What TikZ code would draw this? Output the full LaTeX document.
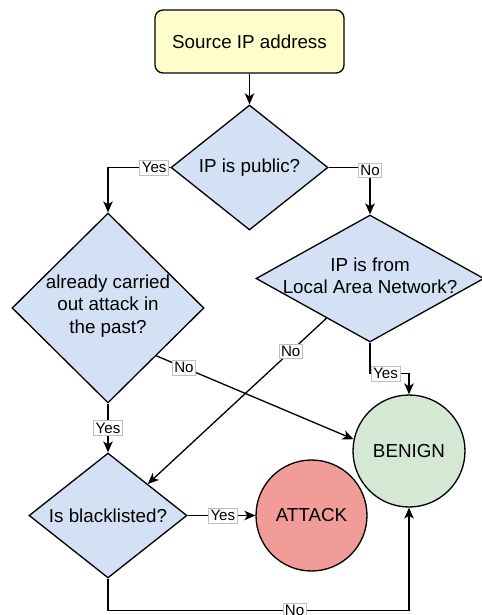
\documentclass[tikz,border=0pt]{standalone}
\usepackage{fontspec}
\setmainfont{Liberation Sans}
\usetikzlibrary{shapes.geometric, arrows.meta, positioning, calc}
\definecolor{giallo}{HTML}{FFFFCC}
\definecolor{azzurro}{HTML}{D4E1F5}
\definecolor{verde}{HTML}{D5E8D4}
\definecolor{rosso}{HTML}{F19C99}

\begin{document}
\begin{tikzpicture}[
  x=0.02cm, y=-0.02cm,
  font=\fontsize{10.7}{12.8}\selectfont,
  avvio/.style={draw=black, fill=giallo, line width=0.75pt, rounded corners=0.16cm,
                minimum width=3.78cm, minimum height=1.26cm, inner sep=2pt},
  decis/.style={diamond, draw=black, fill=azzurro, line width=0.75pt, inner sep=0pt},
  testo/.style={align=center, inner sep=0pt},
  cerchio/.style={circle, draw=black, line width=0.75pt, inner sep=0pt},
  etich/.style={fill=white, draw=black!25, line width=0.4pt, inner sep=1.2pt,
                font=\fontsize{8.6}{10}\selectfont},
  fdline/.style={draw=black, line width=0.75pt},
  fdar/.style={fdline, -{Stealth[length=2.2mm, width=1.9mm, inset=0.6mm]}}
]
\useasboundingbox (0,0) rectangle (481,615);

%--------------------------------------------------------------
% Ingresso
%--------------------------------------------------------------
\node[avvio] (src) at (249.5,41.5) {Source IP address};

%--------------------------------------------------------------
% Decisioni
%--------------------------------------------------------------
\node[decis, minimum width=3.14cm, minimum height=2.50cm] (d1) at (249.5,167.5) {};
\node[testo] (d1t) at (d1) {IP is public?};

\node[decis, minimum width=3.84cm, minimum height=3.80cm] (d2) at (108,308) {};
\node[testo] (d2t) at (108,306) {already carried\\ out attack in\\ the past?};

\node[decis, minimum width=4.56cm, minimum height=2.54cm] (d3) at (370,278.5) {};
\node[testo] (d3t) at (370,276) {IP is from\\ Local Area Network?};

\node[decis, minimum width=3.16cm, minimum height=2.50cm] (d4) at (108,515.5) {};
\node[testo] (d4t) at (d4) {Is blacklisted?};

%--------------------------------------------------------------
% Esiti
%--------------------------------------------------------------
\node[cerchio, fill=verde, minimum size=2.24cm] (benign) at (409,451) {BENIGN};
\node[cerchio, fill=rosso, minimum size=2.22cm] (attack) at (311.5,515.5) {ATTACK};

%--------------------------------------------------------------
% Collegamenti
%--------------------------------------------------------------
\draw[fdar] (src) -- (d1);
\draw[fdar] (d1.west) -| node[etich, pos=0.13] (si1) {Yes} (d2.north);
\draw[fdar] (d1.east) -| node[etich, pos=0.53] (no1) {No} (d3.north);
\draw[fdar] (d2.south) -- node[etich] (si2) {Yes} (d4.north);
\draw[fdar] (d2.south east) -- node[etich, pos=0.14] (no2) {No} (benign.168);
\draw[fdar] ($(d3.south)!0.38!(d3.west)$) -- node[etich, pos=0.2] (no3) {No} (d4.north east);
\draw[fdar] (d3.south) -- ++(0,31) -| node[etich, pos=0.2] (si3) {Yes} (benign.north);
\draw[fdar] (d4.east) -- node[etich, pos=0.52] (si4) {Yes} (attack);
\draw[fdar] (d4.south) -- ++(0,32) -| node[etich, pos=0.31] (no4) {No} (benign.south);

\end{tikzpicture}
\end{document}
